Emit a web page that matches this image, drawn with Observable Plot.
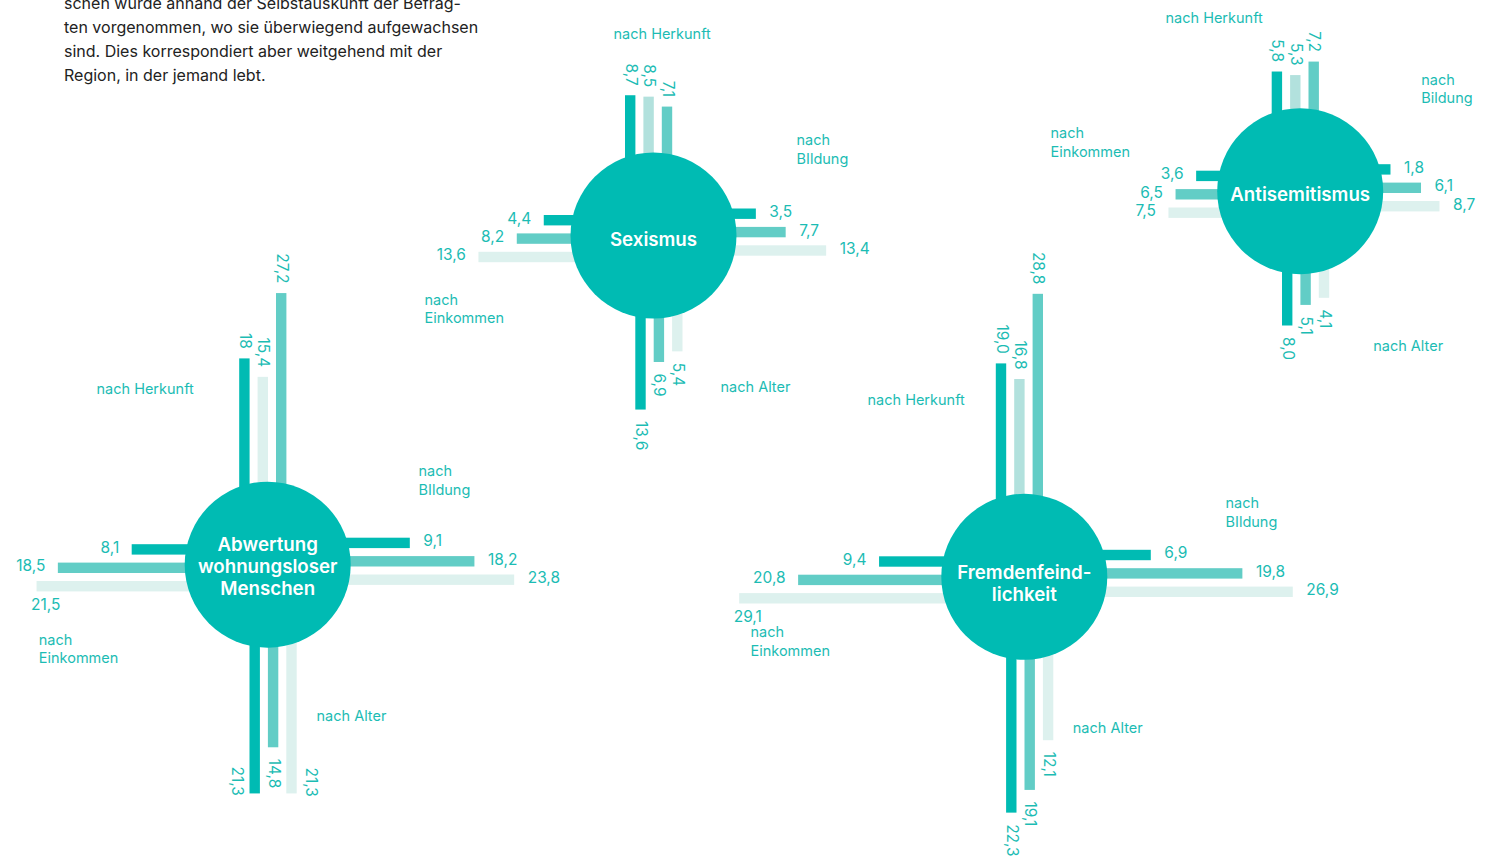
<!DOCTYPE html>
<html>
<head>
<meta charset="utf-8">
<script src="https://cdn.jsdelivr.net/npm/d3@7"></script>
<script src="https://cdn.jsdelivr.net/npm/@observablehq/plot@0.6"></script>
<style>
  html, body { margin: 0; padding: 0; background: #ffffff; }
  #wrap { position: relative; width: 1491px; height: 856px; overflow: hidden; }
  #chart { position: absolute; left: 0; top: 0; }
  #intro { position: absolute; left: 64px; top: -9px; margin: 0; font-family: Inter, "Noto Sans", sans-serif;
           font-size: 16px; line-height: 24px; color: #222222; }
</style>
</head>
<body>
<div id="wrap">
  <div id="chart"></div>
  <p id="intro">schen wurde anhand der Selbstauskunft der Befrag-<br>ten vorgenommen, wo sie überwiegend aufgewachsen<br>sind. Dies korrespondiert aber weitgehend mit der<br>Region, in der jemand lebt.</p>
</div>
<script>
// ---------------- DATA ----------------
const themes = ["Sexismus", "Antisemitismus", "Abwertung wohnungsloser Menschen", "Fremdenfeindlichkeit"];
const themeTitles = ["Sexismus", "Antisemitismus", "Abwertung\nwohnungsloser\nMenschen", "Fremdenfeind-\nlichkeit"];
const dimensions = ["Herkunft", "Bildung", "Alter", "Einkommen"];
const herkunftTitles  = ["nach Herkunft", "nach Herkunft", "nach Herkunft", "nach Herkunft"];
const bildungTitles   = ["nach\nBIldung", "nach\nBildung", "nach\nBIldung", "nach\nBIldung"];
const alterTitles     = ["nach Alter", "nach Alter", "nach Alter", "nach Alter"];
const einkommenTitles = ["nach\nEinkommen", "nach\nEinkommen", "nach\nEinkommen", "nach\nEinkommen"];

// values in percent, as printed (three groups per dimension)
const herkunft  = [["8,7", "8,5", "7,1"], ["5,8", "5,3", "7,2"], ["18", "15,4", "27,2"], ["19,0", "16,8", "28,8"]];
const bildung   = [["3,5", "7,7", "13,4"], ["1,8", "6,1", "8,7"], ["9,1", "18,2", "23,8"], ["6,9", "19,8", "26,9"]];
const alter     = [["13,6", "6,9", "5,4"], ["8,0", "5,1", "4,1"], ["21,3", "14,8", "21,3"], ["22,3", "19,1", "12,1"]];
const einkommen = [["4,4", "8,2", "13,6"], ["3,6", "6,5", "7,5"], ["8,1", "18,5", "21,5"], ["9,4", "20,8", "29,1"]];

// ---------------- LAYOUT / STYLE ----------------
const W = 1491, H = 856;
const layout = {
  centers: [[653, 235], [1299.7, 190.7], [267.2, 564.2], [1023.8, 576.3]],
  radius: 83,
  barWidth: 10.4,
  pitch: 18.4,
  // direction vectors and pinwheel offsets of each bar group
  dirs: {
    Herkunft:  {vx: 0,  vy: -1, pin: -4.4},
    Bildung:   {vx: 1,  vy: 0,  pin: -2.9},
    Alter:     {vx: 0,  vy: 1,  pin: 5.9},
    Einkommen: {vx: -1, vy: 0,  pin: 3.6}
  },
  // dimension caption offsets (left edge, first-line centre) relative to circle centre
  captions: {
    Herkunft:  [[-40, -202.5], [-134.7, -174], [-171.2, -177], [-156.8, -178]],
    Bildung:   [[143, -96], [121, -112.4], [150.8, -94.2], [201.2, -74.6]],
    Alter:     [[67, 150.3], [73, 154.3], [48.8, 150.8], [48.5, 150.4]],
    Einkommen: [[-229, 63.3], [-249.7, -58.7], [-228.9, 74.1], [-273.8, 54.7]]
  },
  // special value-label placements
  labelModes: {"2|Einkommen|2": "below", "3|Einkommen|2": "below", "2|Alter|0": "besideLeft", "2|Alter|2": "besideRight"},
  titleDy: [3, 3, 1, 6]
};
const colorKeys = ["dunkel", "mittel", "hell", "blass"];
const colorRange = ["#00BBB3", "#62CDC6", "#DDF1EE", "#B2E1DD"];
const seriesColors = {
  Herkunft: ["dunkel", "blass", "mittel"],
  other: ["dunkel", "mittel", "hell"]
};
const herkunftOverride = {2: ["dunkel", "hell", "mittel"]};
const labelColor = "#1CBCB4";
const font = "Inter, 'Noto Sans', sans-serif";

// bar length from circle centre (px) through a linear scale
const lengthScale = d3.scaleLinear().domain([0, 30]).range([78, 78 + 7.1 * 30]);
const parse = s => +s.replace(",", ".");

const sources = {Herkunft: herkunft, Bildung: bildung, Alter: alter, Einkommen: einkommen};
const bars = [], valueLabels = [], captions = [];
const captionTexts = {Herkunft: herkunftTitles, Bildung: bildungTitles, Alter: alterTitles, Einkommen: einkommenTitles};

themes.forEach((theme, t) => {
  const [cx, cy] = layout.centers[t];
  dimensions.forEach(dim => {
    const d = layout.dirs[dim];
    const vertical = d.vx === 0;
    const keys = dim === "Herkunft" ? (herkunftOverride[t] || seriesColors.Herkunft) : seriesColors.other;
    sources[dim][t].forEach((txt, i) => {
      const v = parse(txt);
      const L = lengthScale(v);
      const p = d.pin + (i - 1) * layout.pitch;
      let x1, x2, y1, y2, bx, by, ex, ey;
      if (vertical) {
        bx = cx + p; x1 = bx - layout.barWidth / 2; x2 = bx + layout.barWidth / 2;
        ey = cy + d.vy * L; y1 = Math.min(cy, ey); y2 = Math.max(cy, ey);
      } else {
        by = cy + p; y1 = by - layout.barWidth / 2; y2 = by + layout.barWidth / 2;
        ex = cx + d.vx * L; x1 = Math.min(cx, ex); x2 = Math.max(cx, ex);
      }
      bars.push({theme, dim, i, value: v, x1, x2, y1, y2, key: keys[i]});
      const mode = layout.labelModes[`${t}|${dim}|${i}`];
      let lab;
      if (mode === "below") lab = {x: ex - 6, y: by + 18, anchor: "start", rotate: 0};
      else if (mode === "besideLeft") lab = {x: bx - 18, y: ey + 2, anchor: "end", rotate: 90};
      else if (mode === "besideRight") lab = {x: bx + 19, y: ey + 3, anchor: "end", rotate: 90};
      else if (dim === "Herkunft") lab = {x: bx, y: ey - 10, anchor: "end", rotate: 90};
      else if (dim === "Alter") lab = {x: bx, y: ey + 11, anchor: "start", rotate: 90};
      else if (dim === "Bildung") lab = {x: ex + 13, y: by - 2, anchor: "start", rotate: 0};
      else lab = {x: ex - 13, y: by - 2, anchor: "end", rotate: 0};
      valueLabels.push({...lab, text: txt});
    });
    const [ox, oy] = layout.captions[dim][t];
    const text = captionTexts[dim][t];
    const nLines = text.split("\n").length;
    captions.push({x: cx + ox, y: cy + oy + (nLines - 1) * 18.6 / 2, text});
  });
});

const circles = themes.map((theme, t) => ({theme, x: layout.centers[t][0], y: layout.centers[t][1], title: themeTitles[t], dy: layout.titleDy[t]}));

const labelMark = (data, rotate, anchor) => Plot.text(data.filter(d => d.rotate === rotate && d.anchor === anchor), {
  x: "x", y: "y", text: "text", rotate, textAnchor: anchor, lineAnchor: "middle",
  fill: labelColor, fontSize: 15.5, fontFamily: font
});

const chart = Plot.plot({
  width: W, height: H, margin: 0,
  x: {domain: [0, W], range: [0, W], axis: null},
  y: {domain: [0, H], range: [0, H], axis: null},
  color: {domain: colorKeys, range: colorRange},
  style: {background: "transparent", fontFamily: font},
  marks: [
    Plot.rect(bars, {x1: "x1", x2: "x2", y1: "y1", y2: "y2", fill: "key"}),
    Plot.dot(circles, {x: "x", y: "y", r: layout.radius, fill: colorRange[0], stroke: null}),
    Plot.text(circles, {x: "x", y: d => d.y + d.dy, text: "title", fill: "white", fontSize: 18.7, fontWeight: 600,
      lineHeight: 1.18, lineAnchor: "middle", textAnchor: "middle", fontFamily: font}),
    labelMark(valueLabels, 0, "start"),
    labelMark(valueLabels, 0, "end"),
    labelMark(valueLabels, 90, "start"),
    labelMark(valueLabels, 90, "end"),
    Plot.text(captions, {x: "x", y: "y", text: "text", textAnchor: "start", lineAnchor: "middle", lineHeight: 1.28,
      fill: labelColor, fontSize: 14.5, fontFamily: font})
  ]
});
document.getElementById("chart").appendChild(chart);
</script>
</body>
</html>
